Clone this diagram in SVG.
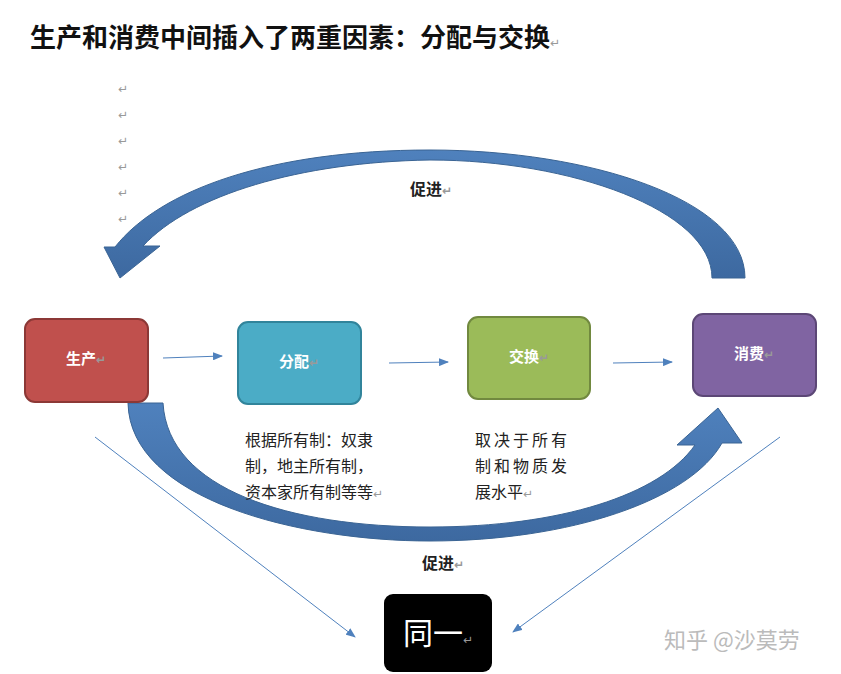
<svg xmlns="http://www.w3.org/2000/svg" width="841" height="674" viewBox="0 0 841 674">
<style>
.n{font-family:"Liberation Serif","Noto Sans CJK SC",serif;font-weight:bold;font-size:15px;fill:#fff;text-anchor:middle}
.r{fill:#999;font-family:"DejaVu Sans",sans-serif;font-size:12px}
.t{font-family:"Liberation Serif","Noto Sans CJK SC",serif;font-size:16px;fill:#222}
.big{fill:url(#g);stroke:#3a6494;stroke-width:1}
.ln{stroke:#4F81BD;stroke-width:1;fill:none;marker-end:url(#a)}
</style>
<defs>
<linearGradient id="g" x1="0" y1="0" x2="0" y2="1"><stop offset="0" stop-color="#4F81BD"/><stop offset="1" stop-color="#3D69A0"/></linearGradient>
<marker id="a" markerWidth="10" markerHeight="8" refX="9" refY="4" orient="auto" markerUnits="userSpaceOnUse"><path d="M0,0 L10,4 L0,8 Z" fill="#4F81BD"/></marker>
</defs>
<text x="30" y="47" font-family="Liberation Serif,'Noto Sans CJK SC',serif" font-size="26" font-weight="bold" fill="#111">生产和消费中间插入了两重因素：分配与交换<tspan class="r" font-weight="normal" font-size="16">↵</tspan></text>
<g class="r"><text x="118" y="93">↵</text><text x="118" y="119">↵</text><text x="118" y="145">↵</text><text x="118" y="171">↵</text><text x="118" y="197">↵</text><text x="118" y="223">↵</text></g>
<g id="connectors">
<path class="big" d="M745,278 C745,200 590,150 430,150 C270,150 160,190 115,247 L104,247 L120,278 L160,246 L143,246 C190,195 300,162 430,160 C570,160 712,210 712,278 Z"/>
<path class="big" d="M128,403 C130,500 300,541 430,541 C570,541 690,500 722,443 L742,443 L718,408 L677,445 L695,445 C660,495 560,527 430,527 C290,527 168,490 163,403 Z"/>
<line class="ln" x1="163" y1="358" x2="222" y2="356"/>
<line class="ln" x1="389" y1="363" x2="448" y2="362"/>
<line class="ln" x1="613" y1="363" x2="672" y2="362"/>
<line class="ln" x1="95" y1="437" x2="355" y2="637"/>
<line class="ln" x1="780" y1="437" x2="513" y2="632"/>
<text class="t" x="410" y="195" font-weight="bold" font-size="15">促进<tspan class="r">↵</tspan></text>
<text class="t" x="422" y="569" font-weight="bold" font-size="15">促进<tspan class="r">↵</tspan></text>
</g>
<g id="n1"><rect x="25" y="319" width="123" height="83" rx="10" fill="#C0504D" stroke="#8C3836" stroke-width="2"/><text class="n" x="86" y="364">生产<tspan class="r">↵</tspan></text></g>
<g id="n2"><rect x="238" y="322" width="123" height="82" rx="10" fill="#4BACC6" stroke="#31849B" stroke-width="2"/><text class="n" x="299" y="367">分配<tspan class="r">↵</tspan></text></g>
<g id="n3"><rect x="468" y="317" width="122" height="82" rx="10" fill="#9BBB59" stroke="#71893F" stroke-width="2"/><text class="n" x="529" y="362">交换<tspan class="r">↵</tspan></text></g>
<g id="n4"><rect x="693" y="314" width="123" height="82" rx="10" fill="#8064A2" stroke="#5C4776" stroke-width="2"/><text class="n" x="754" y="359">消费<tspan class="r">↵</tspan></text></g>
<g id="n5"><rect x="384" y="594" width="108" height="78" rx="9" fill="#000"/><text x="438" y="644" font-family="Liberation Serif,'Noto Sans CJK SC',serif" font-size="30" fill="#fff" text-anchor="middle">同一<tspan class="r" font-size="14">↵</tspan></text></g>
<g id="notes">
<text class="t" x="245" y="446">根据所有制：奴隶</text>
<text class="t" x="245" y="472">制，地主所有制，</text>
<text class="t" x="245" y="498">资本家所有制等等<tspan class="r">↵</tspan></text>
<text class="t" x="475" y="446" letter-spacing="3">取决于所有</text>
<text class="t" x="475" y="472" letter-spacing="3">制和物质发</text>
<text class="t" x="475" y="498">展水平<tspan class="r">↵</tspan></text>
</g>
<text x="664" y="648" font-family="'Noto Sans CJK SC',sans-serif" font-size="22" fill="#bbb">知乎 @沙莫劳</text>
</svg>
